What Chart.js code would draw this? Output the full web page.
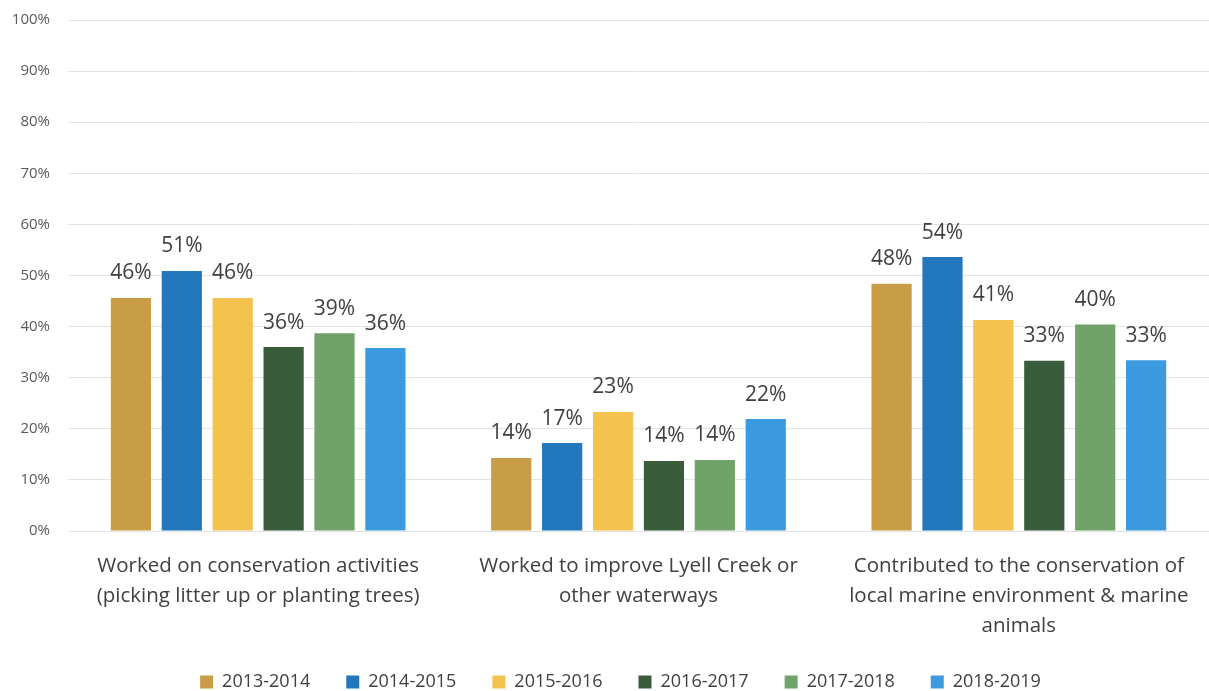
<!DOCTYPE html>
<html>
<head>
<meta charset="utf-8">
<script src="https://cdn.jsdelivr.net/npm/chart.js@4"></script>
<style>
  html, body { margin: 0; padding: 0; background: #fff; }
  #wrap { width: 1209px; height: 691px; }
</style>
</head>
<body>
<div id="wrap"><canvas id="chart"></canvas></div>
<script>
const categories = [
    ['Worked on conservation activities', '(picking litter up or planting trees)'],
    ['Worked to improve Lyell Creek or', 'other waterways'],
    ['Contributed to the conservation of', 'local marine environment & marine', 'animals']
];
const years = ['2013-2014', '2014-2015', '2015-2016', '2016-2017', '2017-2018', '2018-2019'];
const colors = ['#c99d45', '#2277bd', '#f3c24f', '#395d3a', '#71a26a', '#3c9be0'];

// values per year, one per category (percent)
const v2013 = [45.6, 14.3, 48.4];
const v2014 = [50.9, 17.2, 53.6];
const v2015 = [45.6, 23.3, 41.3];
const v2016 = [36.0, 13.7, 33.3];
const v2017 = [38.7, 13.9, 40.4];
const v2018 = [35.8, 21.9, 33.4];
const seriesValues = [v2013, v2014, v2015, v2016, v2017, v2018];

const yTicks = [0, 10, 20, 30, 40, 50, 60, 70, 80, 90, 100];

const FONT = '"Open Sans", sans-serif';

// draws the value labels above each bar
const valueLabels = {
    id: 'valueLabels',
    afterDatasetsDraw(chart) {
        const ctx = chart.ctx;
        ctx.save();
        ctx.font = '21px ' + FONT;
        ctx.fillStyle = '#404040';
        ctx.textAlign = 'center';
        ctx.textBaseline = 'bottom';
        chart.data.datasets.forEach((ds, i) => {
            chart.getDatasetMeta(i).data.forEach((bar, j) => {
                ctx.fillText(Math.round(ds.data[j]) + '%', bar.x, bar.y - 14);
            });
        });
        ctx.restore();
    }
};

// keep the legend box a fixed height so the wide item spacing doesn't eat the plot,
// and nudge it a bit right like the original
const legendHeight = {
    id: 'legendHeight',
    beforeLayout(chart) {
        const lg = chart.legend;
        if (!lg || lg._fixed) return;
        const fit = lg.fit;
        lg.fit = function () {
            fit.call(this);
            this.height = 54;
        };
        lg._fixed = true;
    },
    afterLayout(chart) {
        const lg = chart.legend;
        if (!lg) return;
        lg.left += 16;
        lg.right += 16;
    }
};

new Chart(document.getElementById('chart'), {
    type: 'bar',
    data: {
        labels: categories,
        datasets: years.map((y, i) => ({
            label: y,
            data: seriesValues[i],
            backgroundColor: colors[i],
            categoryPercentage: 0.803,
            barPercentage: 0.79
        }))
    },
    options: {
        responsive: true,
        maintainAspectRatio: false,
        animation: false,
        layout: { padding: { top: 20, right: 0, bottom: 0, left: 0 } },
        scales: {
            y: {
                min: 0,
                max: 100,
                afterBuildTicks(axis) { axis.ticks = yTicks.map(v => ({ value: v })); },
                afterFit(axis) {
                    axis.width = 68;
                    axis.paddingTop = 0;
                    axis.paddingBottom = 0;
                },
                border: { display: false },
                grid: { color: '#e3e3e3', drawTicks: false },
                ticks: {
                    padding: 18,
                    color: '#595959',
                    font: { family: FONT, size: 15 },
                    callback: v => v + '%'
                }
            },
            x: {
                border: { display: false },
                grid: { display: false },
                afterFit(axis) { axis.height = 106; },
                ticks: {
                    padding: 12,
                    color: '#404040',
                    maxRotation: 0,
                    font: { family: FONT, size: 20.5, lineHeight: 1.46 }
                }
            }
        },
        plugins: {
            tooltip: { enabled: false },
            legend: {
                position: 'bottom',
                labels: {
                    boxWidth: 13,
                    boxHeight: 13,
                    padding: 36,
                    color: '#404040',
                    font: { family: FONT, size: 18 }
                }
            }
        }
    },
    plugins: [valueLabels, legendHeight]
});
</script>
</body>
</html>
